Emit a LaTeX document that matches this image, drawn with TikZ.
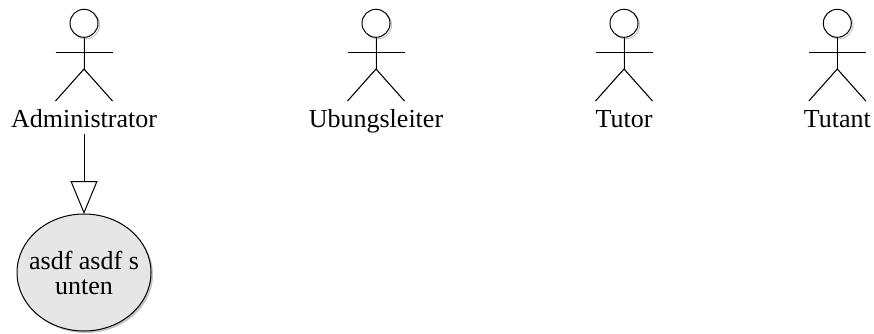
\documentclass[tikz,border=0pt]{standalone}
\usepackage{fontspec}
\setmainfont{Liberation Serif}
\usepackage{tikz}
\usetikzlibrary{arrows.meta,shapes.geometric,shadows}

\definecolor{casefill}{HTML}{E6E6E6}
\definecolor{shade}{HTML}{C4C4C4}

\tikzset{
    limb/.style={draw=black,line width=1pt},
    limbshade/.style={draw=shade,line width=1pt},
    head/.style={circle,draw=black,line width=1pt,minimum size=28pt,inner sep=0pt,outer sep=0pt},
    actorname/.style={font=\fontsize{26}{26}\selectfont,anchor=base,inner sep=7pt,outer sep=0pt},
    usecase/.style={ellipse,draw=black,line width=1pt,fill=casefill,minimum width=134pt,minimum height=117pt,
        inner sep=0pt,outer sep=0pt,
        drop shadow={shadow xshift=2pt,shadow yshift=-2pt,fill=shade,opacity=1}},
    casetext/.style={align=center,font=\fontsize{26}{25}\selectfont,inner sep=0pt},
    generalize/.style={draw=black,line width=1pt,-{Triangle[open,length=33pt,width=27pt,line width=1pt]}},
}

% #1 name, #2 x, #3 text
\newcommand{\Actor}[3]{
    \coordinate (#1neck) at (#2,37);
    \coordinate (#1hip) at (#2,69);
    \coordinate (#1armL) at (#2-28.5,52.7);
    \coordinate (#1armR) at (#2+28.5,52.7);
    \coordinate (#1legL) at (#2-28.5,101);
    \coordinate (#1legR) at (#2+28.5,101);
    \draw[limbshade,shift={(1.6,1.6)}] (#2,23.3) circle (14);
    \draw[limbshade,shift={(1.6,1.6)}] (#1neck) -- (#1hip) (#1armL) -- (#1armR) (#1legL) -- (#1hip) -- (#1legR);
    \node[head,fill=white] (#1head) at (#2,23.3) {};
    \draw[limb] (#1head) -- (#1hip);
    \draw[limb] (#1armL) -- (#1armR);
    \draw[limb] (#1legL) -- (#1hip) -- (#1legR);
    \node[actorname] (#1) at (#2,127) {#3};
}

\begin{document}
\begin{tikzpicture}[x=1pt,y=-1pt]
    \useasboundingbox (0,0) rectangle (874,333);

    \Actor{admin}{84}{Administrator}
    \Actor{leiter}{376}{Ubungsleiter}
    \Actor{tutor}{624}{Tutor}
    \Actor{tutant}{837.3}{Tutant}

    \node[usecase,label={[casetext]center:{asdf asdf s\\unten}}] (asdf) at (84,272.5) {};

    \draw[generalize] (admin) -- (asdf);
\end{tikzpicture}
\end{document}
